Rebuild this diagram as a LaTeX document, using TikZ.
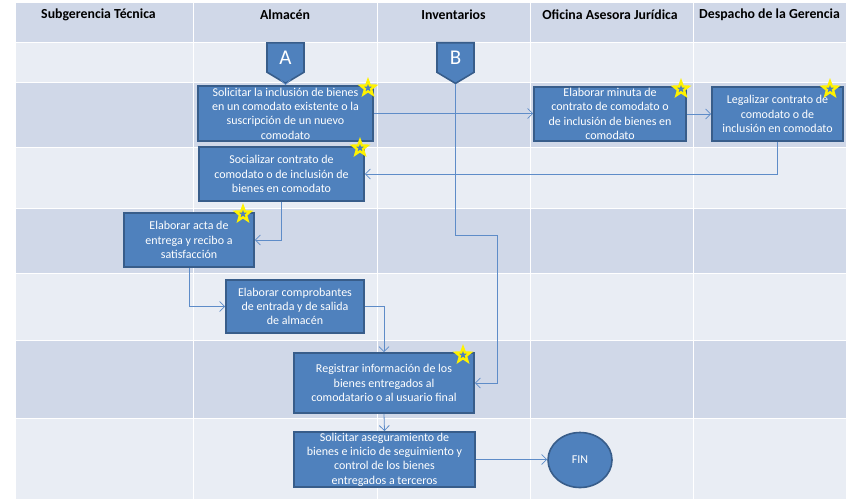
\documentclass[tikz,border=0pt]{standalone}
\usepackage{fontspec}
\setmainfont{Carlito}
\usetikzlibrary{shapes.geometric,shapes.symbols,arrows.meta}
\definecolor{bandA}{HTML}{D0D8E8}
\definecolor{bandB}{HTML}{E9EDF4}
\definecolor{boxfill}{HTML}{4F81BD}
\definecolor{boxline}{HTML}{385D8A}
\definecolor{linkcol}{HTML}{5E8CC8}
\tikzset{
  task/.style={draw=boxline, fill=boxfill, line width=1.6pt, text=white, align=center,
    font=\fontsize{12}{14.3}\selectfont, inner sep=1pt},
  offpage/.style={signal, signal to=south, signal from=nowhere, signal pointer angle=118,
    draw=boxline, fill=boxfill, line width=1.6pt, text=white, font=\fontsize{21}{21}\selectfont,
    minimum width=37pt, minimum height=33pt, inner sep=0pt},
  goldstar/.style={star, star points=5, star point ratio=2.4, fill=yellow, minimum size=22pt, inner sep=0pt},
  bluedot/.style={star, star points=5, star point ratio=2.4, fill=boxfill, minimum size=8pt, inner sep=0pt},
  lanehead/.style={font=\bfseries\fontsize{13.8}{15}\selectfont},
  link/.style={draw=linkcol, line width=0.8pt, -{Straight Barb[length=5pt,width=10pt]}}
}
\newcommand{\starat}[2]{\node[goldstar] (#1) at (#2) {}; \node[bluedot] at (#1) {};}
\begin{document}
\begin{tikzpicture}[x=1pt,y=-1pt]
\useasboundingbox (0,0) rectangle (846,499);
% lanes and rows
\fill[bandA] (16,3) rectangle (846,42);
\fill[bandB] (16,42) rectangle (846,82);
\fill[bandA] (16,82) rectangle (846,147);
\fill[bandB] (16,147) rectangle (846,208);
\fill[bandA] (16,208) rectangle (846,273);
\fill[bandB] (16,273) rectangle (846,340);
\fill[bandA] (16,340) rectangle (846,418);
\fill[bandB] (16,418) rectangle (846,499);
\foreach \y in {42,82,147,208,273,340,418}
  \draw[white, line width=1pt] (16,\y) -- (846,\y);
\foreach \x in {193,377,530,693}
  \draw[white, line width=1pt] (\x,3) -- (\x,499);
\node[lanehead] (h1) at (98.5,15) {Subgerencia Técnica};
\node[lanehead] (h2) at (285,15) {Almacén};
\node[lanehead] (h3) at (453.5,15) {Inventarios};
\node[lanehead] (h4) at (610,15) {Oficina Asesora Jurídica};
\node[lanehead] (h5) at (769.5,15) {Despacho de la Gerencia};
% off-page connectors
\node[offpage] (A) at (285.5,57.5) {A};
\node[offpage] (B) at (455.5,57.5) {B};
% tasks
\node[task, minimum width=175pt, minimum height=55pt] (b1) at (285.5,113.5)
  {Solicitar la inclusión de bienes\\en un comodato existente o la\\suscripción de un nuevo\\comodato};
\node[task, minimum width=152pt, minimum height=54pt] (b2) at (610,114)
  {Elaborar minuta de\\contrato de comodato o\\de inclusión de bienes en\\comodato};
\node[task, minimum width=131pt, minimum height=54pt] (b3) at (777.5,114)
  {Legalizar contrato de\\comodato o de\\inclusión en comodato};
\node[task, minimum width=165pt, minimum height=54pt] (b4) at (281.5,174)
  {Socializar contrato de\\comodato o de inclusión de\\bienes en comodato};
\node[task, minimum width=130pt, minimum height=54pt] (b5) at (189,240)
  {Elaborar acta de\\entrega y recibo a\\satisfacción};
\node[task, minimum width=138pt, minimum height=53pt] (b6) at (295,306.5)
  {Elaborar comprobantes\\de entrada y de salida\\de almacén};
\node[task, minimum width=180pt, minimum height=60pt] (b7) at (384,383)
  {Registrar información de los\\bienes entregados al\\comodatario o al usuario final};
\node[task, minimum width=181pt, minimum height=55pt] (b8) at (384.5,459.5)
  {Solicitar aseguramiento de\\bienes e inicio de seguimiento y\\control de los bienes\\entregados a terceros};
\node[task, ellipse, minimum width=64pt, minimum height=55pt] (fin) at (580,460) {FIN};
% stars
\starat{s1}{368,88}
\starat{s2}{681,89}
\starat{s3}{830,89}
\starat{s4}{360,148}
\starat{s5}{243,214}
\starat{s7}{463,355}
% connectors
\coordinate (bend) at (497,235);
\draw[link] (A.south) -- (b1.north);
\draw[link] (b1.east) -- (b1.east -| b2.west);
\draw[link] (b2.east) -- (b2.east -| b3.west);
\draw[link] (b3.south) |- (b4.east);
\draw[link] (b4.south) |- (b5.east);
\draw[link] (b5.south) |- (b6.west);
\draw[link] (b6.east) -| (b7.north);
\draw[link] (B.south) |- (bend) |- (b7.east);
\draw[link] (b7.south) -- (b8.north);
\draw[link] (b8.east) -- (b8.east -| fin.west);
\end{tikzpicture}
\end{document}
